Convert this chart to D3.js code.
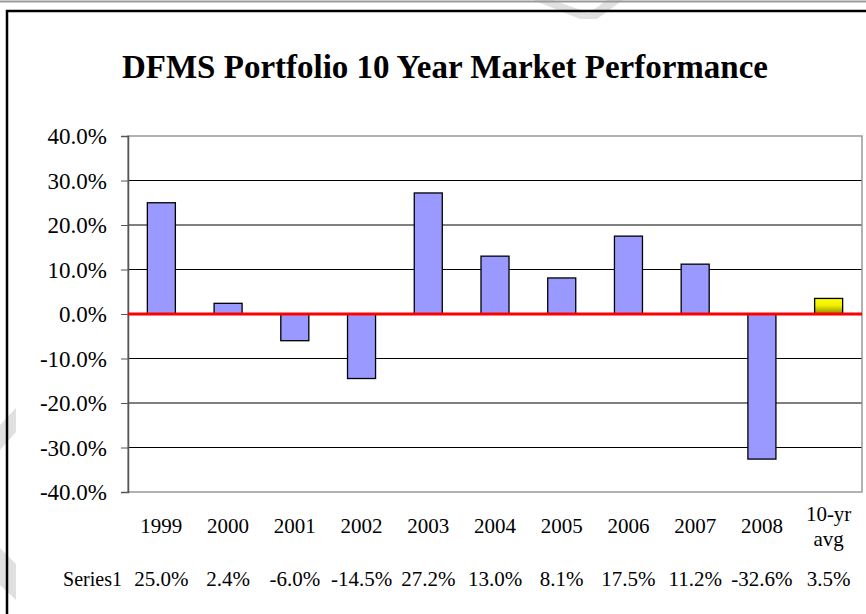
<!DOCTYPE html>
<html>
<head>
<meta charset="utf-8">
<script src="https://cdn.jsdelivr.net/npm/d3@7"></script>
</head>
<body style="margin:0; background:#fff">
<svg id="chart" width="866" height="614" style="display:block"></svg>
<script>
// Data
const years = ["1999", "2000", "2001", "2002", "2003", "2004", "2005", "2006", "2007", "2008", "10-yr avg"];
const returns = [25.0, 2.4, -6.0, -14.5, 27.2, 13.0, 8.1, 17.5, 11.2, -32.6, 3.5];
const yTicks = [-40, -30, -20, -10, 0, 10, 20, 30, 40];
const seriesName = "Series1";

const serif = "'Liberation Serif', 'Times New Roman', serif";

const svg = d3.select("#chart");
const margin = { top: 136, right: 4, bottom: 122, left: 128 };
const width = 866 - margin.left - margin.right;
const height = 614 - margin.top - margin.bottom;

// faint background marks
const ghost = svg.append("g").attr("fill", "#e0e0e0");
ghost.append("polygon").attr("points", "533,0 553,0 589,13 607,0 623,0 597,19 580,19");
ghost.append("polygon").attr("points", "0,425 16,408 16,432 0,450");
ghost.append("polygon").attr("points", "0,548 16,564 16,600 0,585");

// outer lines
svg.append("line").attr("x1", 0).attr("x2", 866).attr("y1", 1.5).attr("y2", 1.5)
    .attr("stroke", "#999").attr("stroke-width", 2);
svg.append("path").attr("d", "M7,614 V11 H866")
    .attr("fill", "none").attr("stroke", "#000").attr("stroke-width", 2.5);

// title
svg.append("text")
    .attr("x", 445)
    .attr("y", 78)
    .attr("text-anchor", "middle")
    .style("font-family", serif)
    .style("font-size", "33px")
    .style("font-weight", "bold")
    .text("DFMS Portfolio 10 Year Market Performance");

const x = d3.scaleBand().domain(years).range([0, width]).paddingInner(0.58).paddingOuter(0.29);
const y = d3.scaleLinear().domain([-40, 40]).range([height, 0]);

const g = svg.append("g").attr("transform", `translate(${margin.left},${margin.top})`);

// gradient for the average bar
const grad = svg.append("defs").append("linearGradient")
    .attr("id", "avgGrad").attr("x1", 0).attr("x2", 0).attr("y1", 0).attr("y2", 1);
grad.append("stop").attr("offset", "0%").attr("stop-color", "#ffff00");
grad.append("stop").attr("offset", "45%").attr("stop-color", "#f0f000");
grad.append("stop").attr("offset", "100%").attr("stop-color", "#8a8a00");

// gridlines
g.selectAll(".grid")
    .data(yTicks.filter(d => d !== 0 && Math.abs(d) !== 40))
    .join("line")
    .attr("class", "grid")
    .attr("x1", 0).attr("x2", width)
    .attr("y1", d => y(d)).attr("y2", d => y(d))
    .attr("stroke", "#000").attr("stroke-width", 1);

// plot border
g.append("rect")
    .attr("x", 0).attr("y", 0).attr("width", width).attr("height", height)
    .attr("fill", "none").attr("stroke", "#999").attr("stroke-width", 1.5);

// y axis
const yAxis = d3.axisLeft(y).tickValues(yTicks).tickSize(7).tickPadding(14)
    .tickFormat(d => d.toFixed(1) + "%");
g.append("g").call(yAxis)
    .call(a => a.select(".domain").attr("stroke", "#555").attr("stroke-width", 1.5))
    .call(a => a.selectAll(".tick line").attr("stroke", "#555"))
    .call(a => a.selectAll("text")
        .style("font-family", serif)
        .style("font-size", "23px")
        .attr("fill", "#000")
        .attr("dy", "0.34em"));

// bars
g.selectAll(".bar")
    .data(returns)
    .join("rect")
    .attr("class", "bar")
    .attr("x", (d, i) => x(years[i]))
    .attr("width", x.bandwidth())
    .attr("y", d => y(Math.max(0, d)))
    .attr("height", d => Math.abs(y(d) - y(0)))
    .attr("fill", (d, i) => i === years.length - 1 ? "url(#avgGrad)" : "#9999ff")
    .attr("stroke", "#000")
    .attr("stroke-width", 1.3);

// zero line
g.append("line")
    .attr("x1", 0).attr("x2", width)
    .attr("y1", y(0)).attr("y2", y(0))
    .attr("stroke", "#ff0000").attr("stroke-width", 3);

// category labels
const cat = g.selectAll(".cat")
    .data(years)
    .join("text")
    .attr("class", "cat")
    .attr("x", d => x(d) + x.bandwidth() / 2)
    .attr("y", height + 41)
    .attr("text-anchor", "middle")
    .style("font-family", serif)
    .style("font-size", "21px");
cat.each(function (d) {
    const parts = d === "10-yr avg" ? ["10-yr", "avg"] : [d];
    const t = d3.select(this);
    parts.forEach((p, k) => {
        t.append("tspan")
            .attr("x", x(d) + x.bandwidth() / 2)
            .attr("dy", k === 0 ? (parts.length > 1 ? -12 : 0) : 25)
            .text(p);
    });
});

// data table row
g.append("text")
    .attr("x", -6)
    .attr("y", height + 94)
    .attr("text-anchor", "end")
    .style("font-family", serif)
    .style("font-size", "20px")
    .text(seriesName);
g.selectAll(".val")
    .data(returns)
    .join("text")
    .attr("class", "val")
    .attr("x", (d, i) => x(years[i]) + x.bandwidth() / 2)
    .attr("y", height + 94)
    .attr("text-anchor", "middle")
    .style("font-family", serif)
    .style("font-size", "21px")
    .text(d => d.toFixed(1) + "%");
</script>
</body>
</html>
